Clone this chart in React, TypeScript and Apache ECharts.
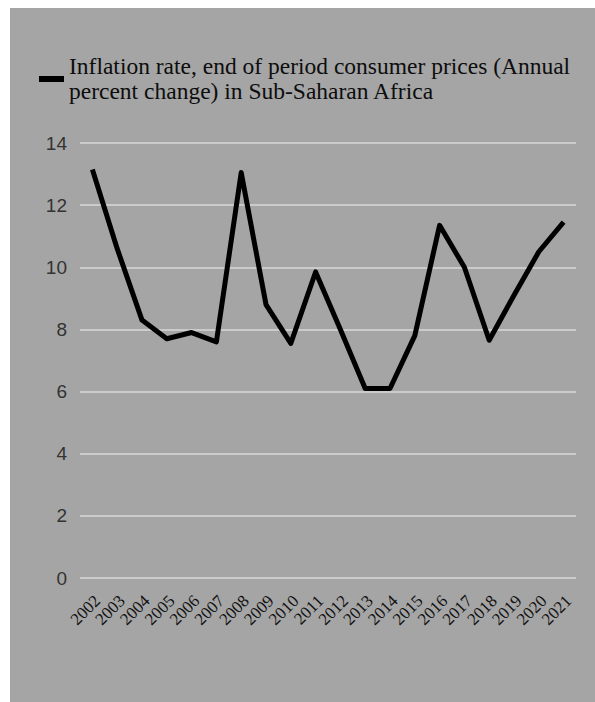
import React, { useEffect, useRef } from "react";
import * as echarts from "echarts";

const years = ["2002","2003","2004","2005","2006","2007","2008","2009","2010","2011","2012","2013","2014","2015","2016","2017","2018","2019","2020","2021"];
const inflation = [13.15, 10.6, 8.3, 7.7, 7.9, 7.6, 13.05, 8.8, 7.55, 9.85, 8.0, 6.1, 6.1, 7.8, 11.35, 10.0, 7.65, 9.1, 10.5, 11.45];
const legendLines = ["Inflation rate, end of period consumer prices (Annual", "percent change) in Sub-Saharan Africa"];
const seriesName = "Inflation rate, end of period consumer prices (Annual percent change) in Sub-Saharan Africa";

export default function App() {
  const ref = useRef<HTMLDivElement>(null);
  useEffect(() => {
    if (!ref.current) return;
    const chart = echarts.init(ref.current, undefined, { renderer: "svg" });
    const serif = "'Liberation Serif', 'Times New Roman', serif";
    chart.setOption({
      animation: false,
      backgroundColor: "#a5a5a5",
      grid: { left: 70, right: 19, top: 135, bottom: 124, containLabel: false },
      graphic: [
        { type: "rect", left: 29, top: 68, shape: { width: 25, height: 6 }, style: { fill: "#000" } },
        { type: "text", x: 59, y: 58, style: { text: legendLines[0], font: `23.5px ${serif}`, fill: "#0d0d0d", verticalAlign: "middle" } },
        { type: "text", x: 59, y: 83.3, style: { text: legendLines[1], font: `23.5px ${serif}`, fill: "#0d0d0d", verticalAlign: "middle" } },
      ],
      xAxis: {
        type: "category",
        data: years,
        boundaryGap: true,
        axisLine: { show: false },
        axisTick: { show: false },
        axisLabel: {
          interval: 0,
          rotate: 45,
          margin: 25,
          padding: [0, -7, 0, 0],
          fontFamily: serif,
          fontSize: 17,
          color: "#111",
        },
      },
      yAxis: {
        type: "value",
        min: 0,
        max: 14,
        interval: 2,
        axisLine: { show: false },
        axisTick: { show: false },
        axisLabel: { margin: 13, fontFamily: "'Liberation Sans', Arial, sans-serif", fontSize: 19, color: "#333" },
        splitLine: { lineStyle: { color: "#d9d9d9", width: 1.6 } },
      },
      series: [
        {
          name: seriesName,
          type: "line",
          data: inflation,
          symbol: "none",
          lineStyle: { color: "#000", width: 5, join: "round" },
        },
      ],
    });
    return () => chart.dispose();
  }, []);
  return (
    <div style={{ position: "fixed", left: 0, top: 0, width: 595, height: 702, background: "#fff" }}>
      <div ref={ref} style={{ position: "absolute", left: 10, top: 8, width: 585, height: 694 }} />
    </div>
  );
}
